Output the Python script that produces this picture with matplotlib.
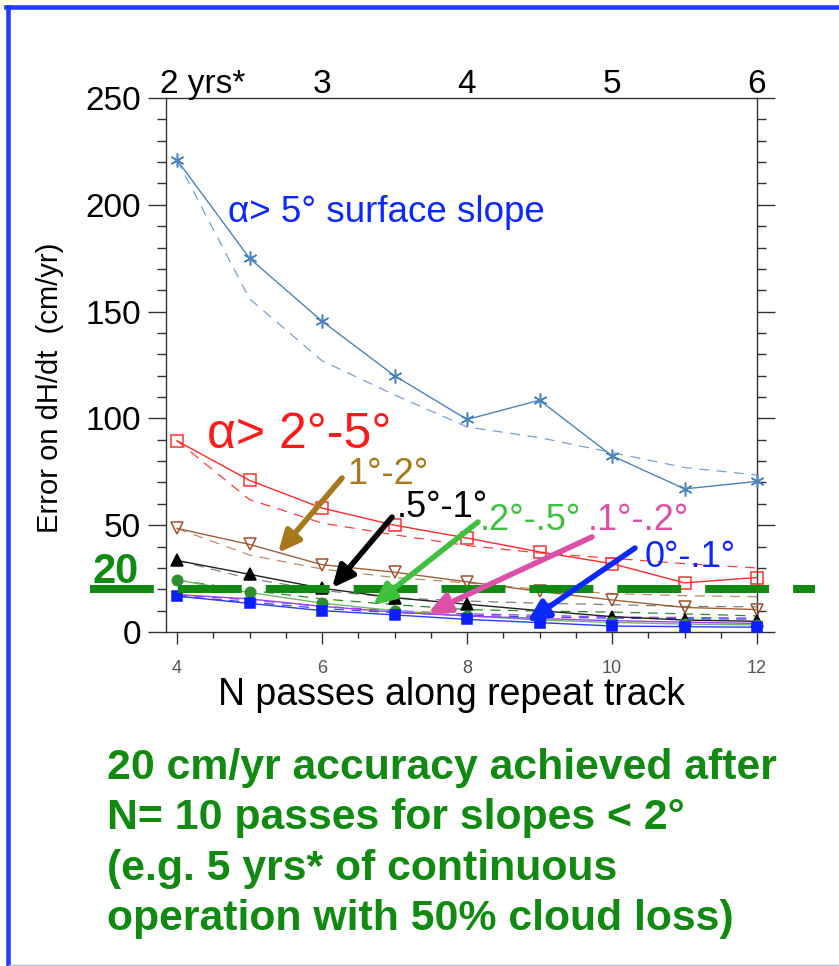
import matplotlib
matplotlib.use("Agg")
import matplotlib.pyplot as plt
from matplotlib.lines import Line2D
from matplotlib.ticker import MultipleLocator
from matplotlib.transforms import blended_transform_factory

plt.rcParams["font.family"] = ["Liberation Sans", "DejaVu Sans"]

# error on dH/dt (cm/yr) vs number of passes; solid = one estimate, dashed = the other
N = [4, 5, 6, 7, 8, 9, 10, 11, 12]
gt5_solid = [221, 175, 145.5, 120, 99.5, 108.5, 82.5, 67, 70.5]
gt5_dash = [221, 156, 127, 111, 96, 91, 84, 77, 73.5]
s2_5_solid = [89.5, 71, 58, 50, 44, 37.5, 32, 23, 25.5]
s2_5_dash = [89.5, 62, 51, 45.5, 40.5, 37, 34.5, 32, 30]
s1_2_solid = [48.5, 41, 31.5, 28, 23.5, 19, 15, 11.5, 10.5]
s1_2_dash = [48.5, 36, 29.5, 25.5, 23, 20, 18, 17, 16.5]
s05_1_solid = [33.5, 27, 20.5, 16, 13, 10, 7.2, 5.6, 5]
s05_1_dash = [33.5, 25, 19.5, 16, 14.5, 13.5, 12.8, 12, 11.8]
s02_05_solid = [24.3, 18.5, 13.5, 10, 7.5, 5.6, 4.5, 3.7, 3.3]
s02_05_dash = [24.3, 19.5, 15.5, 12.8, 10.5, 9.8, 9.3, 8.5, 7.5]
s01_02_solid = [17.5, 15.5, 12, 9.3, 7.5, 6.3, 5.3, 4.6, 4]
s01_02_dash = [17.5, 15, 12, 10, 8.5, 7.8, 7, 6.8, 6.5]
s0_01_solid = [16.8, 13.4, 10, 8, 5.9, 4.4, 2.8, 2.5, 2.2]
s0_01_dash = [16.8, 14, 11, 9, 7.8, 7, 6.5, 6.2, 6]

TARGET = 20
YEAR_TICKS = [6, 8, 10, 12]
YEAR_LABELS = ["3", "4", "5", "6"]

GREEN = "#108a10"

W, H = 839, 966
fig = plt.figure(figsize=(W / 100, H / 100), dpi=100)
ax = fig.add_axes([166 / W, 1 - 632 / H, (757 - 166) / W, (632 - 98) / H])
ax.set_xlim(3.848, 12)
ax.set_ylim(0, 250)

# (solid, dashed, solid colour, dashed colour, marker, marker face, marker edge, size)
SERIES = [
    (gt5_solid, gt5_dash, "#4a84bf", "#76a3d2", (6, 2, 0), "#4a84bf", "#4a84bf", 10),
    (s2_5_solid, s2_5_dash, "#ff2a2a", "#ff3c3c", "s", "none", "#ff3030", 8),
    (s1_2_solid, s1_2_dash, "#a0603a", "#c08a68", "v", "none", "#a0522d", 8.5),
    (s05_1_solid, s05_1_dash, "#222222", "#808080", "^", "black", "black", 8),
    (s02_05_solid, s02_05_dash, "#6cbb6c", "#2a8a2a", "o", "#2f8f2f", "#2f8f2f", 7.5),
    (s01_02_solid, s01_02_dash, "#a040ff", "#9a3cf0", None, "none", "none", 0),
    (s0_01_solid, s0_01_dash, "#2a3cff", "#3050ff", "s", "#0a1eff", "#0a1eff", 7),
]
for solid, dash, c1, c2, mk, mfc, mec, ms in SERIES:
    ax.plot(N, dash, color=c2, lw=0.9, linestyle=(0, (8, 6)), zorder=2)
    ax.plot(N, solid, color=c1, lw=1.0, marker=mk, ms=ms, mfc=mfc, mec=mec,
            mew=1.1, zorder=3, clip_on=False)

# thick green 20 cm/yr line, running past both axes
ax.plot([2.8, 12.8], [TARGET, TARGET], color=GREEN, lw=5.8, dashes=(7.93, 2.98),
        dash_capstyle="butt", clip_on=False, zorder=4)
fig.text(92 / W, 1 - 583 / H, "20", fontsize=30, weight="bold", color=GREEN, va="baseline")

# labels with arrows
ax.text(4.703, 192, "α> 5° surface slope", color="#0a28ff", fontsize=26.5, va="baseline")
ax.text(4.414, 86, "α> 2°-5°", color="#ff1a1a", fontsize=36, va="baseline")
ARROWS = [
    ("1°-2°", "#a8781c", (6.345, 69.3), (6.276, 72.1), (5.393, 37.0)),
    (".5°-1°", "black", (7.034, 53.8), (6.966, 53.8), (6.138, 20.6)),
    (".2°-.5°", "#3ec23e", (8.18, 47.8), (8.152, 51.5), (6.703, 12.6)),
    (".1°-.2°", "#dd50a8", (9.669, 47.8), (9.724, 44.5), (7.462, 8.9)),
    ("0°-.1°", "#0a28ff", (10.455, 30.4), (10.317, 39.3), (8.828, 4.7)),
]
for txt, col, tpos, tail, tip in ARROWS:
    ax.text(tpos[0], tpos[1], txt, color=col, fontsize=26, va="baseline", zorder=6)
    ax.annotate("", xy=tip, xytext=tail,
                arrowprops=dict(arrowstyle="-|>,head_length=1.3,head_width=0.6",
                                color=col, lw=4.0, shrinkA=0, shrinkB=0,
                                mutation_scale=10), zorder=6)

# axes styling
for side in ("left", "right", "top", "bottom"):
    ax.spines[side].set_color("#333333")
    ax.spines[side].set_linewidth(1.0)
ax.yaxis.set_major_locator(MultipleLocator(50))
ax.yaxis.set_minor_locator(MultipleLocator(10))
ax.xaxis.set_major_locator(MultipleLocator(2))
ax.xaxis.set_minor_locator(MultipleLocator(0.5))
ax.tick_params(axis="y", which="both", direction="out", left=True, right=True,
               labelright=False, width=1.0, color="#333333")
ax.tick_params(axis="y", which="major", length=13, labelsize=24, pad=5)
ax.tick_params(axis="y", which="minor", length=6.5)
ax.tick_params(axis="x", which="both", direction="out", top=False, width=1.0, color="#333333")
ax.tick_params(axis="x", which="major", length=8.5, labelsize=13, labelcolor="#555555", pad=12)
ax.tick_params(axis="x", which="minor", length=4.5)

trans = blended_transform_factory(ax.transData, ax.transAxes)
ax.text(3.77, 1 + 5 / 534, "2 yrs*", transform=trans, fontsize=24, ha="left", va="baseline")
for x, lab in zip(YEAR_TICKS, YEAR_LABELS):
    ax.text(x, 1 + 5 / 534, lab, transform=trans, fontsize=24, ha="center", va="baseline")

fig.text(50 / W, 1 - 388 / H, "Error on dH/dt  (cm/yr)", rotation=90, fontsize=21,
         ha="center", va="center")
fig.text(452 / W, 1 - 705 / H, "N passes along repeat track", fontsize=27,
         ha="center", va="baseline")

NOTE = ["20 cm/yr accuracy achieved after",
        "N= 10 passes for slopes < 2°",
        "(e.g. 5 yrs* of continuous",
        "operation with 50% cloud loss)"]
for i, line in enumerate(NOTE):
    fig.text(107 / W, 1 - (779 + 50.3 * i) / H, line, fontsize=30.8, weight="bold",
             color=GREEN, va="baseline")

# slide frame
fig.add_artist(Line2D([7.5 / W, 7.5 / W], [0, 1 - 6.5 / H], transform=fig.transFigure,
                      color="#1f3cff", lw=3.3))
fig.add_artist(Line2D([6 / W, 1], [1 - 6.5 / H, 1 - 6.5 / H], transform=fig.transFigure,
                      color="#1f3cff", lw=3.3))
fig.add_artist(Line2D([9 / W, 1], [1 - 965 / H, 1 - 965 / H], transform=fig.transFigure,
                      color="#a8b8f0", lw=1.0))

fig.savefig("out.png", dpi=100)
